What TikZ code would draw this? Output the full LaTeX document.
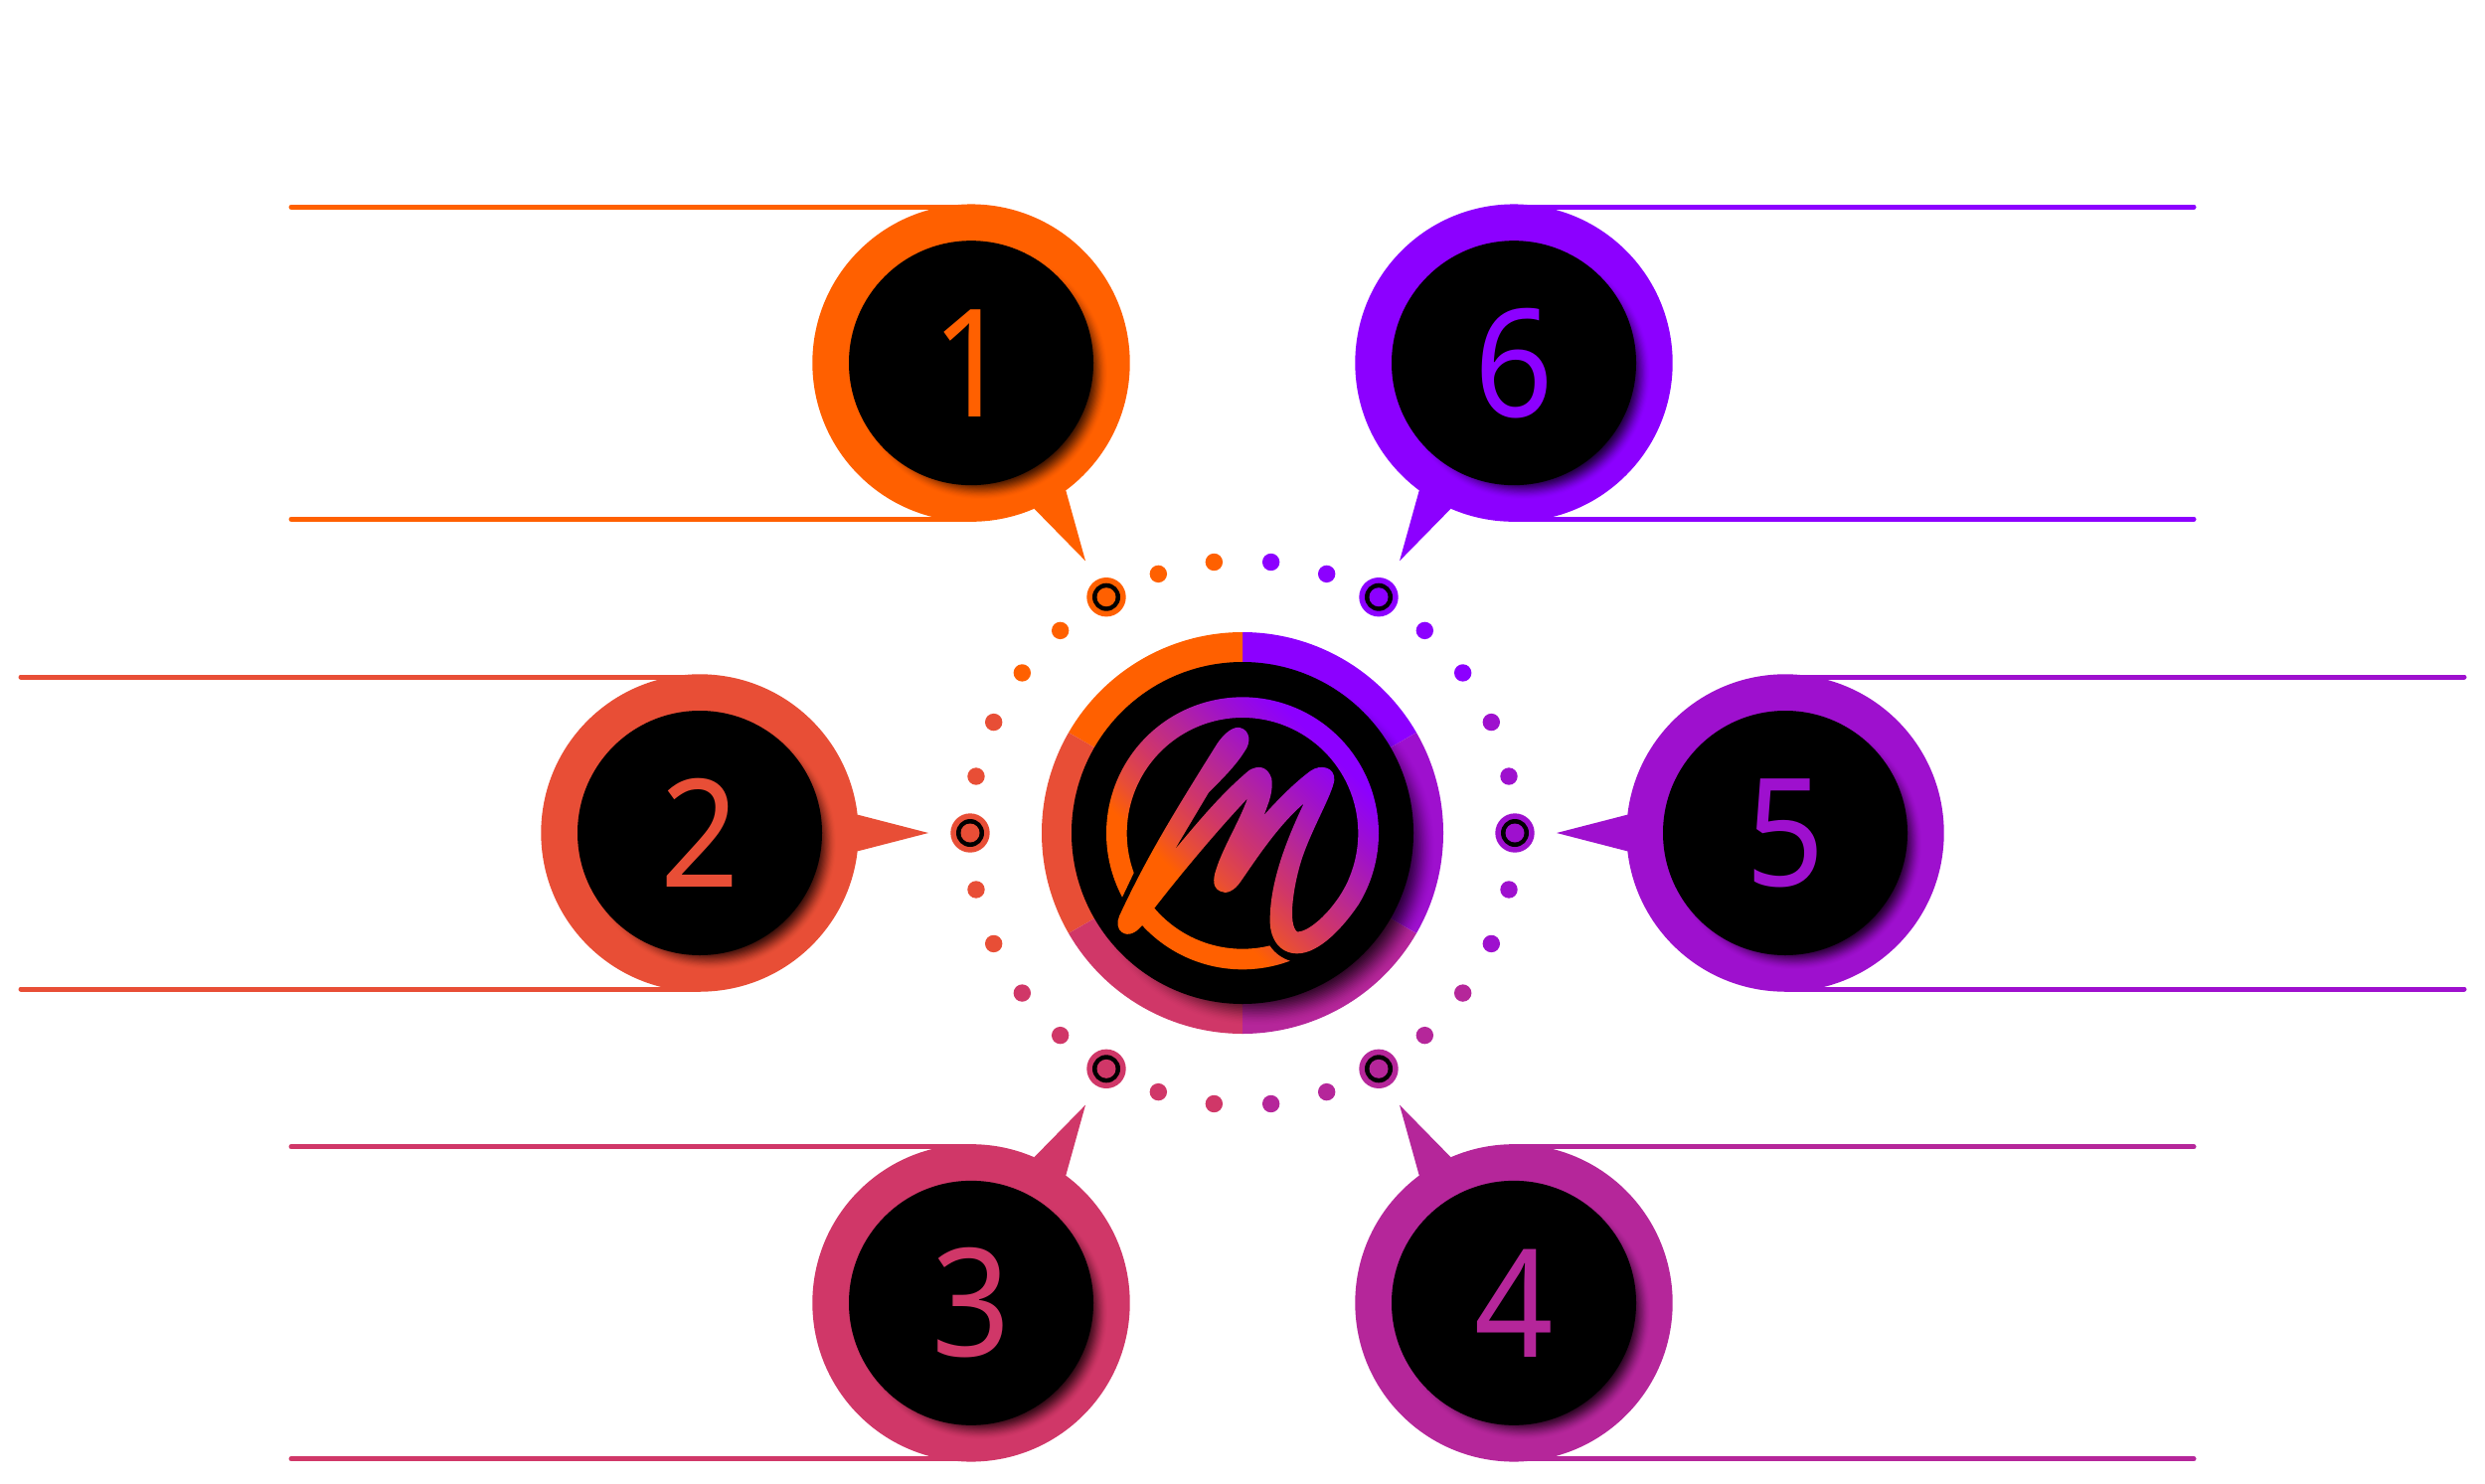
\documentclass[tikz,border=0pt]{standalone}
\usepackage{fontspec}
\setmainfont{Noto Sans}
\definecolor{cOne}{HTML}{FF6000}
\definecolor{cTwo}{HTML}{E84E36}
\definecolor{cThree}{HTML}{D03768}
\definecolor{cFour}{HTML}{B5269A}
\definecolor{cFive}{HTML}{9E10CE}
\definecolor{cSix}{HTML}{8C00FF}
\pgfdeclarehorizontalshading{logoshade}{100bp}{color(0bp)=(cOne); color(36bp)=(cOne); color(41bp)=(cTwo); color(48bp)=(cThree); color(56bp)=(cFour); color(64bp)=(cFive); color(72bp)=(cSix); color(100bp)=(cSix)}
\tikzset{
  disc/.style={circle,inner sep=0pt,outer sep=0pt,minimum size=#1},
  rule/.style={line width=5pt,line cap=round},
  digit/.style={inner sep=0pt,outer sep=0pt,xscale=0.92,font=\fontsize{151}{151}\selectfont}
}
\begin{document}
\begin{tikzpicture}[x=1pt,y=-1pt]
\useasboundingbox (0,0) rectangle (2500,1493);
\fill[white] (0,0) rectangle (2500,1493);
\coordinate (hubc) at (1250,838);
% callouts
\foreach \a/\n/\c/\xe in {120/1/cOne/293,180/2/cTwo/21,240/3/cThree/293,300/4/cFour/2207,0/5/cFive/2479,60/6/cSix/2207}{
  \pgfmathsetmacro\cx{1250+546*cos(\a)}
  \pgfmathsetmacro\cy{838-546*sin(\a)}
  \coordinate (cc\n) at (\cx,\cy);
  \coordinate (lt\n) at (\xe,\cy-157);
  \coordinate (lb\n) at (\xe,\cy+157);
  \coordinate (tip\n) at ({\cx-230*cos(\a)},{\cy+230*sin(\a)});
  \coordinate (ba\n) at ({\cx-159*cos(\a)+18.3*sin(\a)},{\cy+159*sin(\a)+18.3*cos(\a)});
  \coordinate (bb\n) at ({\cx-159*cos(\a)-18.3*sin(\a)},{\cy+159*sin(\a)-18.3*cos(\a)});
  \draw[rule,\c] (lt\n) -- (lt\n -| cc\n);
  \draw[rule,\c] (lb\n) -- (lb\n -| cc\n);
  \fill[\c] (ba\n) -- (tip\n) -- (bb\n) -- (cc\n) -- cycle;
  \node[disc=319.4pt,fill=\c] (ring\n) at (cc\n) {};
  \begin{scope}
    \clip (cc\n) circle[radius=159.7pt];
    \foreach \k in {0,...,19}{
      \pgfmathsetmacro\op{0.012+0.01*\k}
      \fill[black,opacity=\op] (\cx+10,\cy+10) circle[radius={(127-1.2*\k)*1pt}];
    }
  \end{scope}
  \node[disc=246pt,fill=black] (core\n) at (cc\n) {};
  \node[digit,text=\c] (num\n) at (cc\n) {\n};
}
% dotted circle
\foreach \a/\c in {12/cFive,24/cFive,36/cSix,48/cSix,72/cSix,84/cSix,96/cOne,108/cOne,132/cOne,144/cOne,156/cTwo,168/cTwo,192/cTwo,204/cTwo,216/cThree,228/cThree,252/cThree,264/cThree,276/cFour,288/cFour,312/cFour,324/cFour,336/cFive,348/cFive}{
  \node[disc=17.4pt,fill=\c] (dot\a) at ({1250+274*cos(\a)},{838-274*sin(\a)}) {};
}
\foreach \a/\c in {120/cOne,180/cTwo,240/cThree,300/cFour,0/cFive,60/cSix}{
  \node[disc=39.4pt,fill=\c] (ma\a) at ({1250+274*cos(\a)},{838-274*sin(\a)}) {};
  \node[disc=28pt,fill=black] (mb\a) at (ma\a) {};
  \node[disc=19pt,fill=\c] (mc\a) at (ma\a) {};
}
% hub ring
\foreach \s/\e/\c in {30/90/cSix,90/150/cOne,150/210/cTwo,210/270/cThree,270/330/cFour,330/390/cFive}{
  \fill[\c] (hubc) -- ++(\s:202pt) arc[start angle=\s,end angle=\e,radius=202pt] -- cycle;
}
\begin{scope}
  \clip (hubc) circle[radius=202pt];
  \foreach \k in {0,...,24}{
    \pgfmathsetmacro\op{0.006+0.008*\k}
    \fill[black,opacity=\op] (1265,853) circle[radius={(178-1.6*\k)*1pt}];
  }
\end{scope}
\node[disc=344pt,fill=black] (hub) at (hubc) {};
% logo
\begin{scope}[shift={(1000,600)},x=0.33333pt,y=-0.33333pt]
\shade[shading=logoshade,shading angle=45]
  (445,995) .. controls (425,1020) and (395,1030) .. (378,1005)
  .. controls (368,988) and (375,970) .. (385,950)
  .. controls (465,780) and (545,650) .. (670,450)
  .. controls (695,410) and (725,390) .. (745,397)
  .. controls (772,405) and (778,440) .. (755,470)
  .. controls (730,510) and (690,550) .. (655,585)
  -- (648,592) -- (545,765)
  .. controls (600,700) and (680,600) .. (770,525)
  .. controls (795,510) and (825,510) .. (838,550)
  .. controls (843,590) and (830,620) .. (815,660)
  .. controls (860,610) and (910,560) .. (955,527)
  .. controls (985,505) and (1030,515) .. (1027,555)
  .. controls (1020,600) and (960,700) .. (930,790)
  .. controls (905,865) and (885,990) .. (915,1012)
  .. controls (950,1015) and (1030,945) .. (1070,855)
  -- plot[domain=23.6:-200,samples=120] ({750+349*cos(\x)},{715+349*sin(\x)})
  -- plot[domain=-208:31.6,samples=130] ({750+411*cos(\x)},{715+411*sin(\x)})
  .. controls (1060,990) and (985,1078) .. (915,1078)
  .. controls (860,1078) and (830,1030) .. (833,970)
  .. controls (835,850) and (890,720) .. (935,625)
  .. controls (860,690) and (800,780) .. (745,860)
  .. controls (725,890) and (700,900) .. (683,890)
  .. controls (660,880) and (660,855) .. (670,825)
  .. controls (690,760) and (740,680) .. (765,610)
  .. controls (680,700) and (570,830) .. (485,940)
  -- plot[domain=139.7:76.4,samples=40] ({750+349*cos(\x)},{715+349*sin(\x)})
  .. controls (850,1080) and (870,1092) .. (893,1100)
  -- plot[domain=69.6:137.4,samples=40] ({750+411*cos(\x)},{715+411*sin(\x)})
  -- cycle;
\end{scope}
\end{tikzpicture}
\end{document}
